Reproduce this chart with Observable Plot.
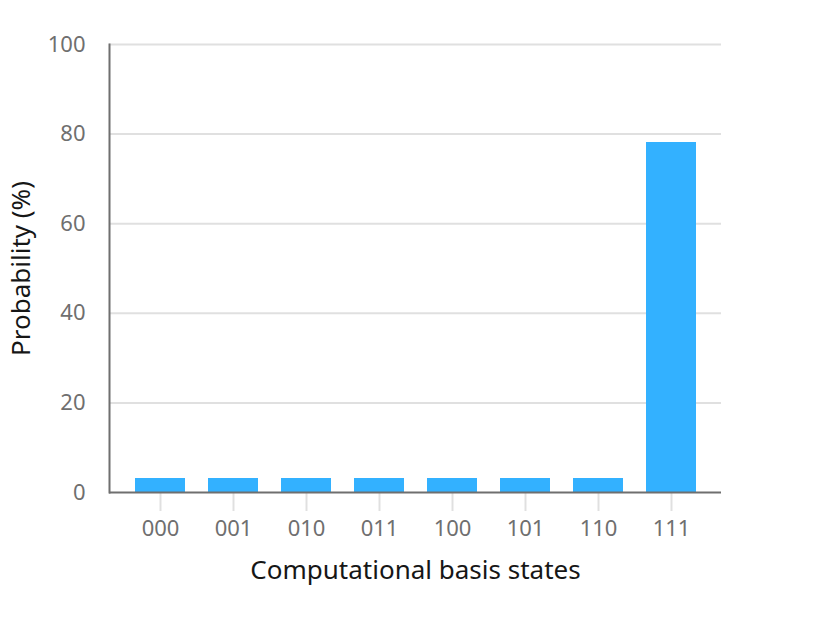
<!DOCTYPE html>
<html>
<head>
<meta charset="utf-8">
<script src="https://cdn.jsdelivr.net/npm/d3@7"></script>
<script src="https://cdn.jsdelivr.net/npm/@observablehq/plot@0.6"></script>
<style>
  html, body { margin: 0; padding: 0; background: #fff; }
  #chart svg { display: block; }
</style>
</head>
<body>
<div id="chart"></div>
<script>
const states = ["000", "001", "010", "011", "100", "101", "110", "111"];
const probabilities = [3.125, 3.125, 3.125, 3.125, 3.125, 3.125, 3.125, 78.125];
const yTicks = [0, 20, 40, 60, 80, 100];

const data = states.map((s, i) => ({state: s, p: probabilities[i]}));

const font = "'Noto Sans', 'Open Sans', sans-serif";

const chart = Plot.plot({
  width: 829,
  height: 625,
  marginLeft: 109,
  marginRight: 108,
  marginTop: 44,
  marginBottom: 133,
  style: {fontFamily: font, background: "#fff"},
  x: {domain: states, padding: 0.316, label: null},
  y: {domain: [0, 100], ticks: yTicks, label: null},
  marks: [
    Plot.gridY(yTicks.filter(d => d > 0), {stroke: "#e0e0e0", strokeOpacity: 1, strokeWidth: 2}),
    Plot.barY(data, {x: "state", y: "p", fill: "#33b1ff"}),
    Plot.axisY({ticks: yTicks, tickSize: 0, tickPadding: 24, fontSize: 22, color: "#6f6f6f", label: null}),
    Plot.axisX({tickSize: 19, tickPadding: 9, fontSize: 22, color: "#6f6f6f", stroke: "#e0e0e0", strokeWidth: 2, label: null}),
    Plot.ruleY([0], {stroke: "#6f6f6f", strokeWidth: 2}),
    Plot.frame({anchor: "left", stroke: "#6f6f6f", strokeWidth: 2}),
    Plot.text(["Computational basis states"], {frameAnchor: "bottom", dy: 78, fontSize: 26, fill: "#161616", lineAnchor: "middle"}),
    Plot.text(["Probability (%)"], {frameAnchor: "left", dx: -88, rotate: -90, textAnchor: "middle", fontSize: 26, fill: "#161616", lineAnchor: "middle"})
  ]
});

document.getElementById("chart").append(chart);
</script>
</body>
</html>
